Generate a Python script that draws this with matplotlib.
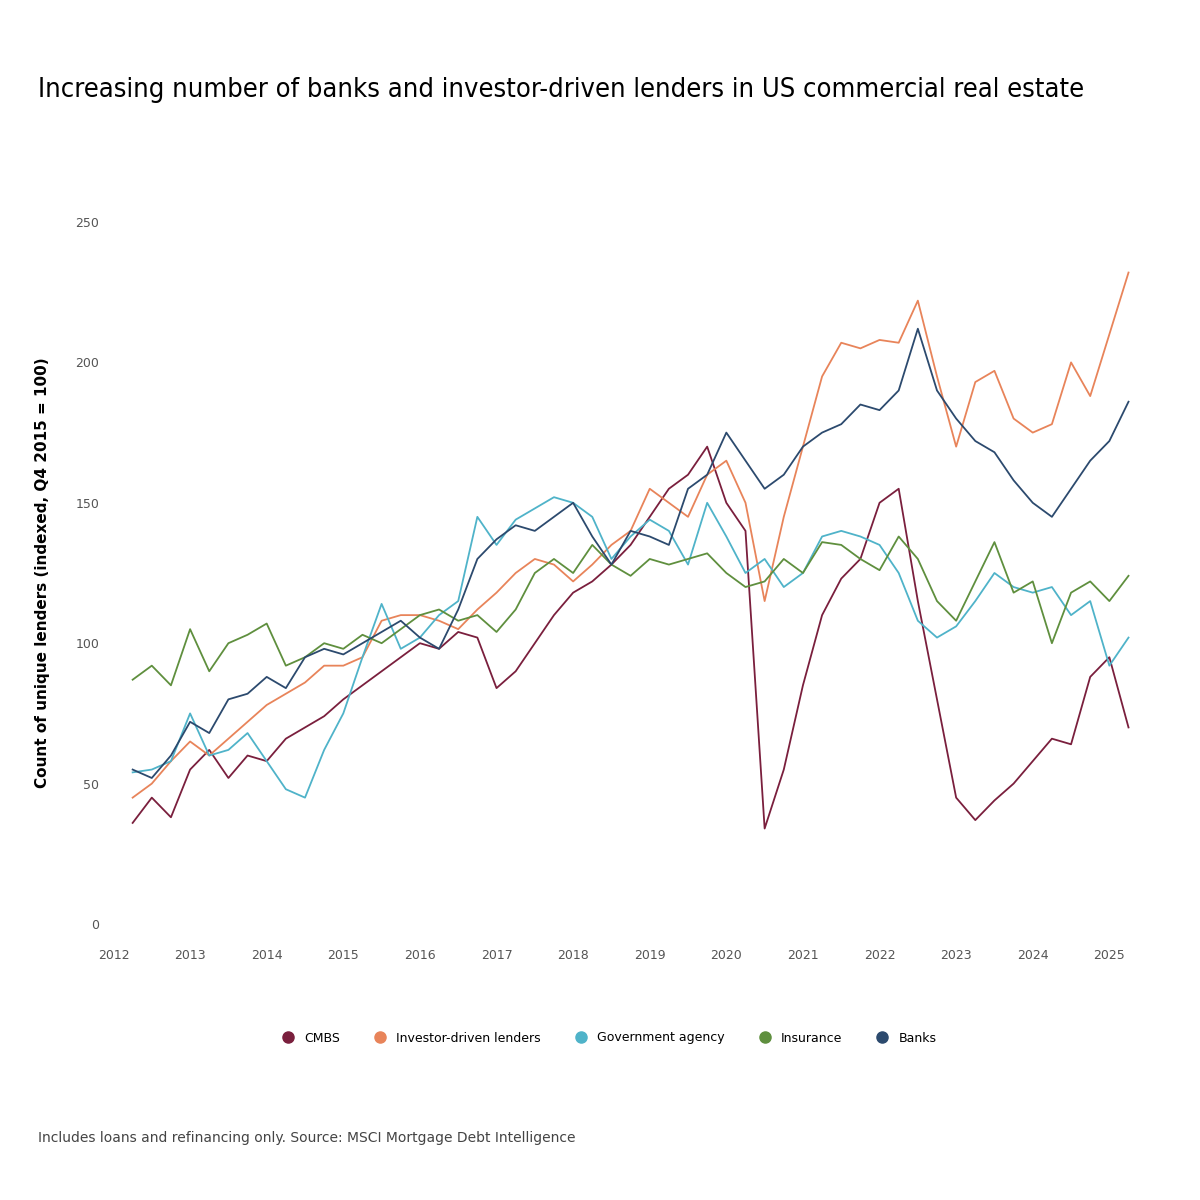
import matplotlib.pyplot as plt
from matplotlib.lines import Line2D
import numpy as np

# quarterly index values, 2012 Q2 .. 2025 Q2
quarters = np.arange(2012.25, 2025.26, 0.25)
cmbs = [36, 45, 38, 55, 62, 52, 60, 58, 66, 70, 74, 80, 85, 90, 95, 100, 98, 104, 102, 84,
        90, 100, 110, 118, 122, 128, 135, 145, 155, 160, 170, 150, 140, 34, 55, 85, 110, 123,
        130, 150, 155, 115, 80, 45, 37, 44, 50, 58, 66, 64, 88, 95, 70]
investor = [45, 50, 58, 65, 60, 66, 72, 78, 82, 86, 92, 92, 95, 108, 110, 110, 108, 105, 112, 118,
            125, 130, 128, 122, 128, 135, 140, 155, 150, 145, 160, 165, 150, 115, 145, 170, 195, 207,
            205, 208, 207, 222, 195, 170, 193, 197, 180, 175, 178, 200, 188, 210, 232]
government = [54, 55, 58, 75, 60, 62, 68, 58, 48, 45, 62, 75, 95, 114, 98, 102, 110, 115, 145, 135,
              144, 148, 152, 150, 145, 130, 138, 144, 140, 128, 150, 138, 125, 130, 120, 125, 138, 140,
              138, 135, 125, 108, 102, 106, 115, 125, 120, 118, 120, 110, 115, 92, 102]
insurance = [87, 92, 85, 105, 90, 100, 103, 107, 92, 95, 100, 98, 103, 100, 105, 110, 112, 108, 110, 104,
             112, 125, 130, 125, 135, 128, 124, 130, 128, 130, 132, 125, 120, 122, 130, 125, 136, 135,
             130, 126, 138, 130, 115, 108, 122, 136, 118, 122, 100, 118, 122, 115, 124]
banks = [55, 52, 60, 72, 68, 80, 82, 88, 84, 95, 98, 96, 100, 104, 108, 102, 98, 112, 130, 137,
         142, 140, 145, 150, 138, 128, 140, 138, 135, 155, 160, 175, 165, 155, 160, 170, 175, 178,
         185, 183, 190, 212, 190, 180, 172, 168, 158, 150, 145, 155, 165, 172, 186]

series = [("CMBS", cmbs, "#7a1f3d"),
          ("Investor-driven lenders", investor, "#e8845a"),
          ("Government agency", government, "#4fb3c9"),
          ("Insurance", insurance, "#5f8f3e"),
          ("Banks", banks, "#2c4a6e")]
years = list(range(2012, 2026))

fig = plt.figure(figsize=(12, 12), dpi=100)
ax = fig.add_axes([0.085, 0.23, 0.865, 0.585])
for name, vals, col in series:
    ax.plot(quarters, vals, color=col, lw=1.3)

ax.set_ylim(0, 250)
ax.set_yticks([0, 50, 100, 150, 200, 250])
ax.set_xlim(2011.85, 2025.4)
ax.set_xticks(years)
ax.tick_params(axis="x", length=0, labelsize=9, colors="#555555", pad=18)
ax.tick_params(axis="y", length=0, labelsize=9, colors="#555555", pad=2)
for s in ax.spines.values():
    s.set_visible(False)
ax.set_ylabel("Count of unique lenders (indexed, Q4 2015 = 100)", fontsize=11,
              fontweight="bold", labelpad=18)

fig.text(0.032, 0.925, "Increasing number of banks and investor-driven lenders in US commercial real estate",
         fontsize=19.5, fontstretch="condensed", va="center")
handles = [Line2D([], [], marker="o", ls="none", color=c, markersize=8) for _, _, c in series]
fig.legend(handles, [n for n, _, _ in series], loc="center", bbox_to_anchor=(0.505, 0.135),
           ncol=5, frameon=False, fontsize=9, handletextpad=0.3, columnspacing=2.2)
fig.text(0.032, 0.048, "Includes loans and refinancing only. Source: MSCI Mortgage Debt Intelligence",
         fontsize=10, color="#444444")

fig.savefig("out.png")
